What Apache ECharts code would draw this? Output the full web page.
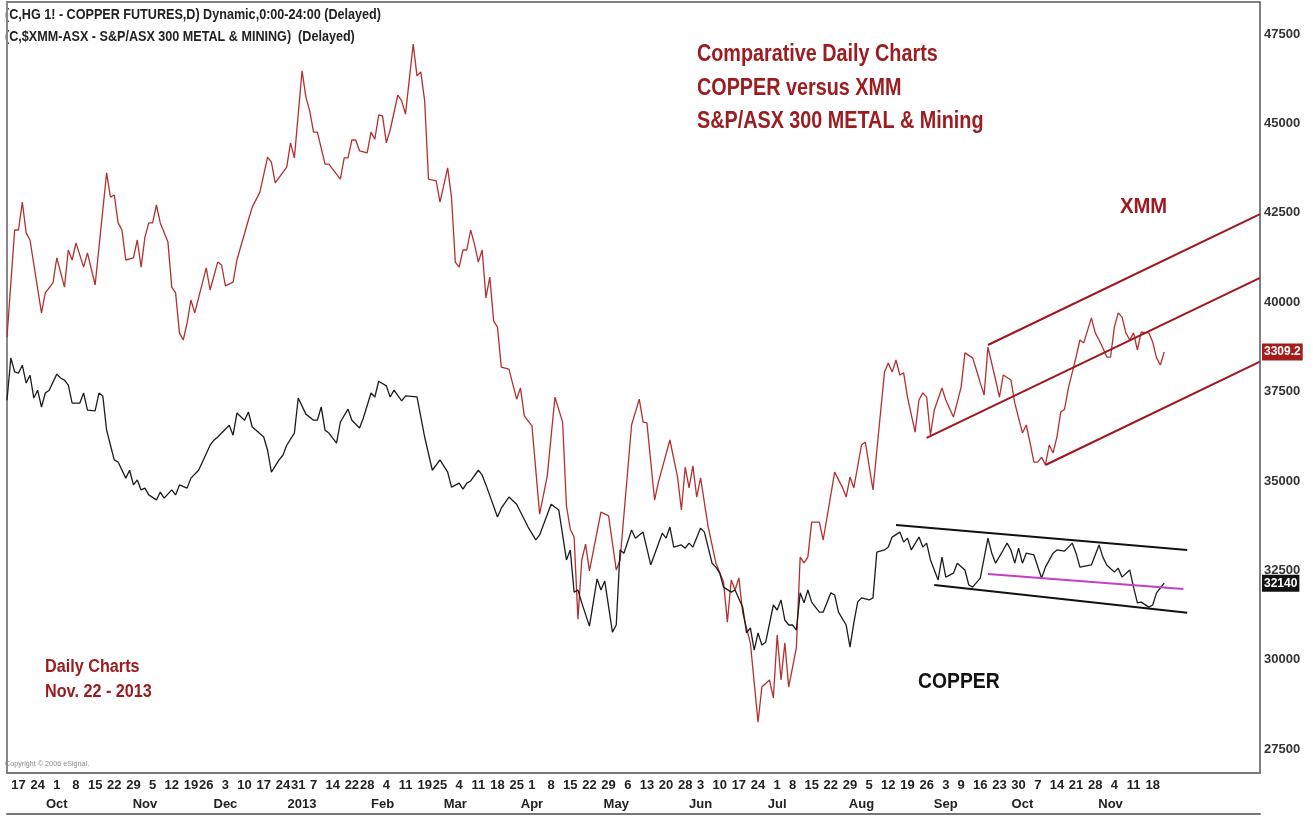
<!DOCTYPE html>
<html>
<head>
<meta charset="utf-8">
<title>Copper versus XMM</title>
<script src="https://cdn.jsdelivr.net/npm/echarts@6/dist/echarts.min.js"></script>
<style>
  html, body { margin: 0; padding: 0; background: #fff; }
  #chart { width: 1313px; height: 816px; }
</style>
</head>
<body>
<div id="chart"></div>
<script>
// trading calendar: first bar on the axis, bars spanned (data + blank space on the right)
const firstDay = '2012-09-12'
const dayCount = 328
const holidays = ['2012-11-22', '2012-12-25', '2013-01-01', '2013-01-21', '2013-02-18',
  '2013-03-29', '2013-05-27', '2013-07-04', '2013-09-02', '2013-11-28', '2013-12-25']
const monthNames = ['Jan', 'Feb', 'Mar', 'Apr', 'May', 'Jun', 'Jul', 'Aug', 'Sep', 'Oct', 'Nov', 'Dec']
const priceTicks = [27500, 30000, 32500, 35000, 37500, 40000, 42500, 45000, 47500]

// [trading day index, value] vertices
const copper = [
  [0,37260],[1,38440],[2,38050],[3,38020],[4,38240],[5,37740],[6,37960],[7,37320],[8,37540],[9,37070],
  [10,37460],[11,37540],[13,37990],[14,37880],[15,37820],[16,37680],[17,37180],[19,37180],[20,37460],[21,36980],
  [23,36960],[24,37460],[25,37380],[26,36420],[27,36000],[28,35590],[29,35530],[31,35080],[32,35300],[33,34890],
  [34,35030],[35,34750],[36,34800],[37,34610],[39,34470],[40,34690],[41,34520],[43,34750],[44,34610],[45,34890],
  [47,34800],[48,35080],[50,35300],[51,35530],[53,36000],[54,36140],[55,36230],[56,36340],[58,36560],[59,36280],
  [60,36900],[62,36700],[63,36930],[64,36510],[65,36420],[67,36230],[68,35860],[69,35250],[71,35590],[72,35720],
  [73,36000],[75,36340],[76,37320],[78,36870],[80,36700],[81,36700],[82,37070],[83,36420],[84,36340],[86,36060],
  [87,36650],[89,37010],[90,36700],[92,36480],[93,36760],[95,37460],[96,37350],[97,37790],[99,37660],[100,37350],
  [101,37540],[103,37240],[104,37380],[107,37350],[109,36230],[111,35300],[113,35590],[115,35250],[116,34830],[118,34940],
  [119,34770],[120,34940],[121,35000],[123,35300],[124,35170],[125,34890],[128,33990],[129,34240],[131,34550],[133,34350],
  [136,33710],[138,33350],[139,33490],[142,34350],[144,34190],[146,32790],[147,33070],[148,31890],[149,31950],[150,31590],
  [152,30940],[154,32260],[155,31950],[156,32200],[158,30770],[159,30970],[160,33070],[161,32980],[163,33630],[164,33400],
  [166,33570],[168,32650],[171,33540],[172,33400],[173,33710],[174,33150],[176,33210],[177,33120],[178,33260],[179,33150],
  [181,33680],[182,33570],[184,32700],[185,32590],[186,32420],[187,32030],[189,31890],[190,31950],[192,31470],[193,30750],
  [194,30890],[195,30270],[196,30750],[197,30410],[198,30490],[200,31530],[201,31390],[202,31670],[203,31110],[204,30970],
  [205,30970],[206,30830],[207,31870],[208,31590],[209,31950],[210,31610],[212,31330],[213,31330],[215,31870],[216,31810],
  [217,31330],[219,30970],[220,30350],[221,31030],[222,31610],[223,31730],[225,31670],[226,31730],[227,33010],[229,33070],
  [230,33150],[231,33430],[233,33570],[234,33290],[235,33400],[236,33070],[238,33430],[239,33150],[240,33260],[241,32790],
  [243,32230],[244,32870],[245,32310],[247,32420],[248,32700],[250,32510],[251,32090],[252,32030],[254,32280],[256,33400],
  [257,32980],[258,32700],[260,33070],[261,33260],[262,33070],[263,32700],[264,33120],[265,32700],[266,32980],[268,32930],
  [270,32280],[271,32590],[273,32980],[274,33070],[276,33040],[277,33150],[278,33260],[279,32980],[280,32590],[283,32650],
  [285,33210],[286,32870],[287,32650],[289,32450],[290,32560],[291,32310],[293,32510],[294,32030],[295,31590],[296,31610],
  [298,31470],[299,31530],[300,31870],[302,32140]
]
const xmm = [
  [0,3345],[2,3602],[3,3602],[4,3669],[5,3595],[6,3578],[9,3403],[10,3451],[12,3475],[13,3535],
  [15,3465],[16,3554],[17,3530],[18,3571],[20,3513],[21,3547],[23,3470],[26,3739],[27,3681],[28,3686],
  [29,3619],[30,3602],[31,3530],[33,3535],[34,3578],[35,3513],[36,3585],[37,3619],[38,3619],[39,3662],
  [40,3619],[42,3573],[43,3465],[44,3451],[45,3355],[46,3338],[47,3379],[48,3434],[49,3403],[50,3439],
  [52,3511],[53,3458],[55,3525],[56,3518],[57,3468],[59,3477],[60,3530],[63,3626],[64,3657],[66,3693],
  [68,3777],[69,3765],[70,3715],[73,3753],[74,3811],[75,3775],[77,3984],[78,3921],[79,3888],[80,3837],
  [81,3837],[83,3760],[84,3760],[87,3724],[88,3775],[89,3775],[90,3818],[91,3818],[92,3792],[94,3787],
  [95,3837],[96,3820],[97,3878],[98,3876],[99,3811],[100,3842],[102,3926],[103,3912],[104,3880],[106,4048],
  [107,3972],[108,3981],[109,3912],[110,3724],[112,3720],[113,3669],[115,3751],[116,3681],[117,3525],[118,3513],
  [119,3554],[120,3554],[121,3602],[122,3568],[123,3525],[124,3554],[125,3439],[126,3489],[127,3384],[128,3369],
  [129,3273],[131,3268],[133,3196],[134,3223],[135,3156],[137,3132],[139,2920],[141,3012],[143,3201],[145,3141],
  [146,2940],[147,2884],[148,2865],[149,2668],[150,2810],[151,2848],[152,2784],[155,2925],[157,2916],[159,2786],
  [160,2810],[163,3134],[165,3196],[166,3141],[167,3139],[169,2954],[170,2997],[173,3098],[175,3009],[176,2930],
  [177,3033],[178,2983],[179,3036],[180,2961],[181,3007],[183,2889],[185,2803],[187,2757],[188,2661],[189,2762],
  [190,2738],[191,2767],[192,2683],[194,2611],[196,2421],[197,2505],[199,2522],[200,2479],[201,2630],[202,2522],
  [203,2611],[204,2505],[206,2599],[207,2817],[208,2803],[209,2817],[210,2901],[212,2901],[213,2858],[216,3021],
  [218,2985],[219,2961],[220,3009],[221,2983],[223,3086],[224,3093],[226,2978],[229,3261],[230,3283],[231,3261],
  [232,3290],[233,3254],[234,3259],[235,3201],[237,3117],[238,3194],[239,3211],[240,3201],[241,3110],[242,3170],
  [244,3223],[245,3194],[247,3153],[249,3225],[250,3307],[252,3295],[253,3266],[254,3235],[255,3206],[256,3321],
  [258,3242],[259,3201],[260,3254],[262,3242],[263,3187],[265,3115],[266,3134],[267,3091],[268,3045],[269,3045],
  [270,3057],[271,3038],[272,3086],[273,3067],[274,3105],[275,3165],[276,3172],[277,3223],[279,3297],[280,3338],
  [281,3331],[283,3391],[284,3355],[285,3338],[286,3319],[287,3297],[288,3297],[289,3369],[290,3403],[291,3393],
  [292,3355],[293,3338],[294,3355],[295,3314],[296,3357],[298,3355],[299,3333],[300,3295],[301,3278],[302,3309.2]
]
const copperLast = 32140
const xmmLast = 3309.2

// trend lines drawn on the chart, [[day, value], [day, value]]
const xmmChannel = [
  [[240, 3103], [327, 3487]],
  [[256, 3326], [327, 3640]],
  [[271, 3038], [327, 3286]]
]
const copperChannel = [
  [[232, 33770], [308, 33070]],
  [[242, 32090], [308, 31310]]
]
const copperMidLine = [[256, 32400], [307, 31980]]

const SANS = '"Liberation Sans", Arial, sans-serif'
const DARK_RED = '#9c1c20'

// build trading days
const days = []
{
  const d = new Date(firstDay + 'T00:00:00Z')
  while (days.length < dayCount) {
    const wd = d.getUTCDay()
    const s = d.toISOString().slice(0, 10)
    if (wd !== 0 && wd !== 6 && !holidays.includes(s)) days.push(s)
    d.setUTCDate(d.getUTCDate() + 1)
  }
}
const lastIdx = copper[copper.length - 1][0]
const weekDay = s => new Date(s + 'T00:00:00Z').getUTCDay()
const isWeekStart = i => i > 0 && i <= lastIdx && weekDay(days[i]) < weekDay(days[i - 1])
const isMonthStart = i => i > 0 && i <= lastIdx && days[i].slice(5, 7) !== days[i - 1].slice(5, 7)

const toLine = (pair, color) => [
  { coord: pair[0], lineStyle: { color: color, width: 2, type: 'solid' } },
  { coord: pair[1] }
]

const priceTag = (value, text, bg) => ({
  yAxis: value,
  lineStyle: { color: 'rgba(0,0,0,0)', width: 0 },
  label: {
    show: true,
    position: 'end',
    distance: 2,
    formatter: text,
    color: '#fff',
    backgroundColor: bg,
    padding: [3, 2, 2, 2],
    fontFamily: SANS,
    fontWeight: 'bold',
    fontSize: 12
  }
})

// condensed annotation text (narrow fonts are not installed, so squeeze horizontally)
const note = (text, x, y, size, color, lineHeight, squeeze, weight) => ({
  type: 'text',
  x: x,
  y: y,
  scaleX: squeeze,
  silent: true,
  style: {
    text: text,
    fill: color,
    fontFamily: SANS,
    fontWeight: weight || 'bold',
    fontSize: size,
    lineHeight: lineHeight,
    verticalAlign: 'top'
  }
})

const chart = echarts.init(document.getElementById('chart'))

const option = {
  animation: false,
  backgroundColor: '#fff',
  graphic: [
    note('(C,HG 1! - COPPER FUTURES,D) Dynamic,0:00-24:00 (Delayed)\n(C,$XMM-ASX - S&P/ASX 300 METAL & MINING)  (Delayed)',
      5, 4, 14, '#222', 22, 0.9),
    note('Comparative Daily Charts\nCOPPER versus XMM\nS&P/ASX 300 METAL & Mining', 697, 38, 23, DARK_RED, 33.5, 0.86),
    note('XMM', 1120, 194, 22, DARK_RED, 26, 0.92),
    note('COPPER', 918, 669, 22, '#111', 26, 0.88),
    note('Daily Charts\nNov. 22 - 2013', 45, 655, 18, DARK_RED, 25, 0.9),
    note('Copyright © 2006 eSignal.', 5, 759, 8, '#888', 10, 0.9, 'normal')
  ],
  grid: {
    left: 7, right: 53, top: 2, bottom: 43,
    show: true, borderColor: '#555', borderWidth: 1.5,
    outerBoundsMode: 'none'
  },
  xAxis: [
    {
      type: 'category',
      data: days,
      boundaryGap: false,
      position: 'bottom',
      axisLine: { lineStyle: { color: '#777', width: 2 } },
      axisTick: { show: false },
      splitLine: { show: false },
      axisLabel: {
        interval: (i) => isWeekStart(i),
        formatter: (v) => String(+v.slice(8)),
        margin: 6,
        color: '#222',
        fontFamily: SANS,
        fontWeight: 'bold',
        fontSize: 13
      }
    },
    {
      type: 'category',
      data: days,
      boundaryGap: false,
      position: 'bottom',
      offset: 41,
      axisLine: { lineStyle: { color: '#777', width: 2 } },
      axisTick: { show: false },
      splitLine: { show: false },
      axisLabel: {
        inside: true,
        interval: (i) => isMonthStart(i),
        formatter: (v) => {
          const m = +v.slice(5, 7)
          return m === 1 ? v.slice(0, 4) : monthNames[m - 1]
        },
        margin: 3,
        color: '#222',
        fontFamily: SANS,
        fontWeight: 'bold',
        fontSize: 13
      }
    },
    {
      type: 'value',
      position: 'top',
      min: 0,
      max: dayCount - 1,
      show: false
    }
  ],
  yAxis: [
    {
      type: 'value',
      position: 'right',
      min: 26830,
      max: 48400,
      splitLine: { show: false },
      axisLine: { show: true, lineStyle: { color: '#888', width: 2 } },
      axisTick: { show: false, customValues: priceTicks },
      axisLabel: {
        customValues: priceTicks,
        formatter: (v) => String(v),
        margin: 4,
        color: '#333',
        fontFamily: SANS,
        fontWeight: 'bold',
        fontSize: 13
      }
    },
    {
      type: 'value',
      position: 'right',
      min: 2298.8,
      max: 4149.2,
      show: false,
      splitLine: { show: false }
    }
  ],
  series: [
    {
      name: 'XMM',
      type: 'line',
      xAxisIndex: 2,
      yAxisIndex: 1,
      data: xmm,
      showSymbol: false,
      lineStyle: { color: '#b3302f', width: 1.3 },
      markLine: {
        silent: true,
        symbol: 'none',
        label: { show: false },
        data: xmmChannel.map(p => toLine(p, '#a0161f')).concat([priceTag(xmmLast, '3309.2', '#a51c1c')])
      }
    },
    {
      name: 'COPPER',
      type: 'line',
      xAxisIndex: 2,
      yAxisIndex: 0,
      data: copper,
      showSymbol: false,
      lineStyle: { color: '#1c1c1c', width: 1.3 },
      markLine: {
        silent: true,
        symbol: 'none',
        label: { show: false },
        data: copperChannel.map(p => toLine(p, '#111'))
          .concat([toLine(copperMidLine, '#c43fc8')])
          .concat([priceTag(copperLast, '32140', '#111')])
      }
    }
  ]
}

chart.setOption(option)
</script>
</body>
</html>
